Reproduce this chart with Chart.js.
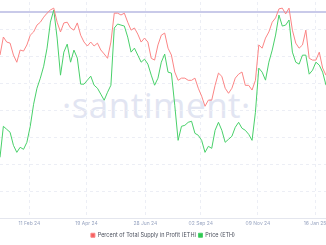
<!DOCTYPE html>
<html>
<head>
<meta charset="utf-8">
<script src="https://cdn.jsdelivr.net/npm/chart.js@4.4.1/dist/chart.umd.min.js"></script>
<style>
  html, body { margin: 0; padding: 0; background: #fff; }
  #wrap { position: relative; width: 326px; height: 245px; overflow: hidden; }
  #mark {
    position: absolute; left: 62px; top: 81px;
    font-family: "Open Sans", sans-serif; font-size: 35px; font-weight: 400;
    color: #e2e5f2; letter-spacing: 0.5px; white-space: nowrap;
  }
  canvas { position: absolute; left: 0; top: 0; }
</style>
</head>
<body>
<div id="wrap">
  <div id="mark">·santiment·</div>
  <canvas id="chart" width="326" height="245"></canvas>
</div>
<script>
// one point every 4 days, starting 7 Jan 2024
const startDay = Date.UTC(2024, 0, 7);
const stepDays = 4;

const tickDates = ['2024-02-11', '2024-04-19', '2024-06-28', '2024-09-02', '2024-11-09', '2025-01-16'];
const tickLabels = ['11 Feb 24', '19 Apr 24', '28 Jun 24', '02 Sep 24', '09 Nov 24', '16 Jan 25'];

// Percent of Total Supply in Profit (ETH), %
const pctProfit = [
  85.3, 90.3, 88.9, 88.6, 85.3, 83.3, 86.7, 86.4, 88.1, 90.8,
  91.7, 93.6, 94.4, 95.8, 96.9, 97.8, 98.3, 94.4, 91.7, 94.2,
  94.4, 92.8, 92.2, 94.2, 90.8, 88.9, 87.8, 88.9, 87.8, 88.6,
  86.7, 85.6, 84.4, 88.9, 96.9, 96.9, 96.4, 96.9, 94.4, 92.2,
  92.8, 91.1, 88.9, 90.0, 88.9, 84.4, 83.9, 88.1, 90.8, 91.4,
  87.2, 85.3, 80.6, 78.3, 78.9, 78.9, 78.3, 78.3, 78.9, 76.1,
  73.9, 71.1, 72.8, 72.8, 76.9, 80.3, 79.4, 76.1, 74.7, 76.1,
  78.9, 80.0, 80.6, 76.9, 76.9, 75.6, 78.3, 88.1, 87.2, 90.0,
  91.7, 94.4, 95.6, 98.1, 98.3, 96.7, 98.3, 92.2, 88.6, 87.2,
  88.1, 92.2, 84.4, 83.9, 83.9, 86.1, 81.7, 79.7
];

// Price (ETH), USD
const priceEth = [
  2221, 2601, 2564, 2528, 2368, 2282, 2344, 2319, 2405, 2601,
  2871, 3067, 3190, 3337, 3558, 3877, 4025, 3681, 3227, 3509,
  3607, 3386, 3534, 3436, 3117, 3117, 3166, 3215, 3104, 3067,
  2994, 2920, 3018, 3104, 3804, 3853, 3840, 3828, 3693, 3509,
  3558, 3472, 3386, 3423, 3362, 3227, 3104, 3190, 3386, 3485,
  3264, 3252, 2859, 2429, 2601, 2613, 2650, 2663, 2515, 2491,
  2429, 2282, 2356, 2331, 2552, 2650, 2552, 2405, 2442, 2479,
  2589, 2650, 2577, 2552, 2503, 2429, 2773, 3313, 3264, 3166,
  3386, 3534, 3718, 3963, 3828, 3840, 3902, 3509, 3386, 3362,
  3472, 3472, 3239, 3288, 3386, 3350, 3264, 3104
];

const priceLevel = 4000;

const DAY = 86400000;
const days = pctProfit.map((v, i) => startDay + i * stepDays * DAY);
const xMin = days[0];
const xMax = days[days.length - 1];
const tickValues = tickDates.map(d => Date.parse(d + 'T00:00:00Z'));

const ctx = document.getElementById('chart').getContext('2d');
new Chart(ctx, {
  type: 'line',
  data: {
    datasets: [{
      label: 'Percent of Total Supply in Profit (ETH)',
      data: days.map((d, i) => ({ x: d, y: pctProfit[i] })),
      yAxisID: 'yPct',
      borderColor: '#fb8585', backgroundColor: '#f55f5f',
      borderWidth: 1, pointRadius: 0, tension: 0
    }, {
      label: 'Price (ETH)',
      data: days.map((d, i) => ({ x: d, y: priceEth[i] })),
      yAxisID: 'yPrice',
      borderColor: '#49d06a', backgroundColor: '#2ec84f',
      borderWidth: 1, pointRadius: 0, tension: 0
    }, {
      label: 'level',
      data: [{ x: xMin, y: priceLevel }, { x: xMax, y: priceLevel }],
      yAxisID: 'yPrice',
      borderColor: '#b7b9e2', borderWidth: 1.5, pointRadius: 0, order: 5
    }]
  },
  options: {
    responsive: false, animation: false,
    layout: { padding: { top: 2, bottom: -3, left: 0, right: 0 } },
    plugins: {
      tooltip: { enabled: false },
      legend: {
        position: 'bottom',
        labels: {
          filter: item => item.text !== 'level',
          boxWidth: 4, boxHeight: 4, padding: 2,
          color: '#4a4f5c',
          font: { family: 'Inter, sans-serif', size: 5.5 }
        }
      }
    },
    scales: {
      x: {
        type: 'linear', min: xMin, max: xMax,
        afterBuildTicks: s => { s.ticks = tickValues.map(v => ({ value: v })); },
        afterFit: s => { s.paddingLeft = 0; s.paddingRight = 0; s.height = 12; },
        ticks: {
          autoSkip: false, maxRotation: 0, padding: 2,
          color: '#9aa6c2', font: { family: 'Inter, sans-serif', size: 5 },
          callback: v => tickLabels[tickValues.indexOf(v)]
        },
        grid: { color: '#eceef5', tickLength: 0, drawTicks: false },
        border: { color: '#e4e6ee', dash: [3, 3] }
      },
      yGrid: {
        position: 'left', min: 0, max: 8,
        ticks: { display: false, stepSize: 1 },
        grid: {
          drawTicks: false, tickLength: 0,
          color: c => (c.tick.value === 0 || c.tick.value === 8) ? 'transparent' : '#eceef5'
        },
        border: { display: false, dash: [3, 3] }
      },
      yPct: { display: false, min: 40, max: 100 },
      yPrice: { display: false, min: 1472.3, max: 4122.7 }
    }
  }
});
</script>
</body>
</html>
